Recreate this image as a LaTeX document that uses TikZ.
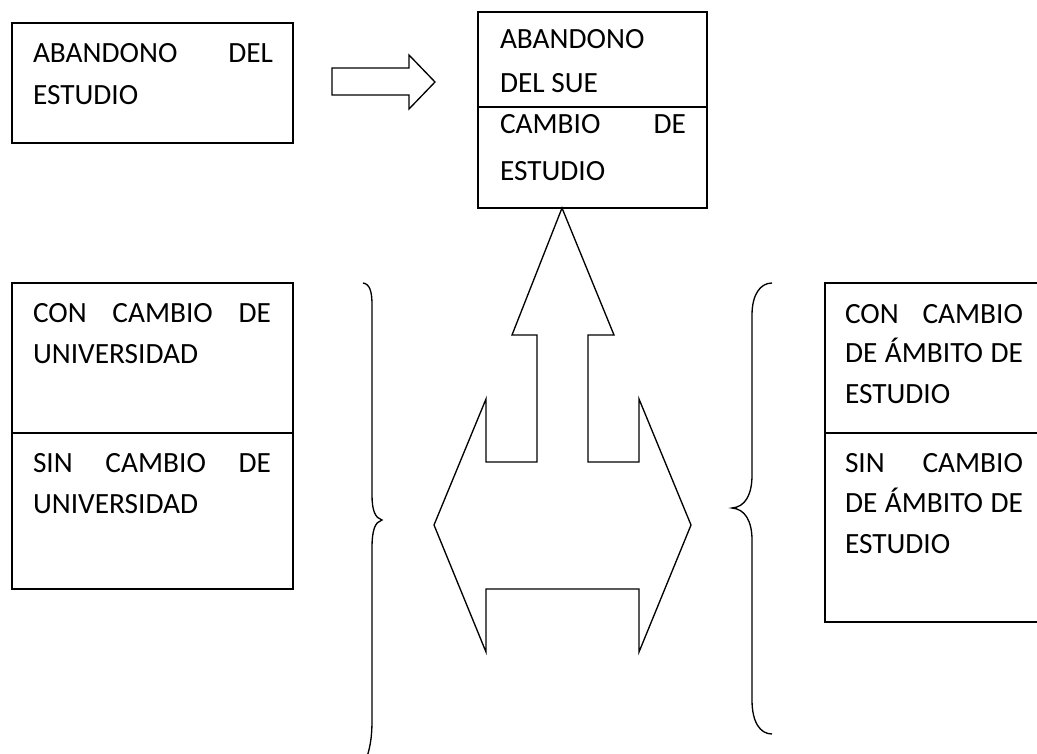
\documentclass[tikz,border=0pt]{standalone}
\usepackage{fontspec}
\setmainfont{Carlito}
\newcommand\jline[2]{\hbox to #1{#2}}
\begin{document}
\begin{tikzpicture}[x=0.75pt,y=-0.75pt,line join=miter,
  shp/.style={draw=black,line width=1pt},
  lbl/.style={anchor=base west,inner sep=0pt,outer sep=0pt,font=\fontsize{22}{30}\selectfont}]
\useasboundingbox (0,0) rectangle (1037,753);
\clip (0,0) rectangle (1037,753);
% boxes
\draw[shp] (12,23) rectangle (293,143);
\draw[shp] (478,12) rectangle (707,208);
\draw[shp] (478,107) -- (707,107);
\draw[shp] (12,283) rectangle (293,589);
\draw[shp] (12,433) -- (293,433);
\draw[shp] (1040,283) -- (825,283) -- (825,622) -- (1040,622);
\draw[shp] (825,433) -- (1040,433);
% texts
\node[lbl] (t1a) at (33,62) {\jline{180pt}{ABANDONO\hfill DEL}};
\node[lbl] (t1b) at (33,104) {ESTUDIO};
\node[lbl] (t2a) at (500,48) {ABANDONO};
\node[lbl] (t2b) at (500,92) {DEL SUE};
\node[lbl] (t2c) at (500,133) {\jline{139.5pt}{CAMBIO\hfill DE}};
\node[lbl] (t2d) at (500,180) {ESTUDIO};
\node[lbl] (t3a) at (33,322) {\jline{178.5pt}{CON\hfill CAMBIO\hfill DE}};
\node[lbl] (t3b) at (33,363) {UNIVERSIDAD};
\node[lbl] (t4a) at (33,472) {\jline{178.5pt}{SIN\hfill CAMBIO\hfill DE}};
\node[lbl] (t4b) at (33,513) {UNIVERSIDAD};
\node[lbl] (t5a) at (845,323) {\jline{133.5pt}{CON\hfill CAMBIO}};
\node[lbl] (t5b) at (845,362) {\jline{133.5pt}{DE\hfill ÁMBITO\hfill DE}};
\node[lbl] (t5c) at (845,403) {ESTUDIO};
\node[lbl] (t6a) at (845,472) {\jline{133.5pt}{SIN\hfill CAMBIO}};
\node[lbl] (t6b) at (845,512) {\jline{133.5pt}{DE\hfill ÁMBITO\hfill DE}};
\node[lbl] (t6c) at (845,553) {ESTUDIO};
% right block arrow
\draw[shp] (332,68) -- (409,68) -- (409,55) -- (435,82) -- (409,109) -- (409,95) -- (332,95) -- cycle;
% big arrow
\draw[shp] (562,208) -- (614,335) -- (588,335) -- (588,462) -- (639,462) -- (639,399) -- (691,525)
  -- (639,652) -- (639,589) -- (486,589) -- (486,652) -- (434,525) -- (486,399) -- (486,462)
  -- (537,462) -- (537,335) -- (512,335) -- cycle;
% braces
\draw[shp] (363,283) .. controls (370,284) and (372,292) .. (372,305) -- (372,495)
  .. controls (372,510) and (375,518) .. (382,520)
  .. controls (375,522) and (372,530) .. (372,548) -- (372,720)
  .. controls (372,738) and (370,748) .. (366,760);
\draw[shp] (772,283) .. controls (760,283) and (752,295) .. (752,315) -- (752,475)
  .. controls (752,495) and (745,507) .. (732,508)
  .. controls (745,509) and (752,521) .. (752,540) -- (752,700)
  .. controls (752,722) and (760,734) .. (772,734);
\end{tikzpicture}
\end{document}
